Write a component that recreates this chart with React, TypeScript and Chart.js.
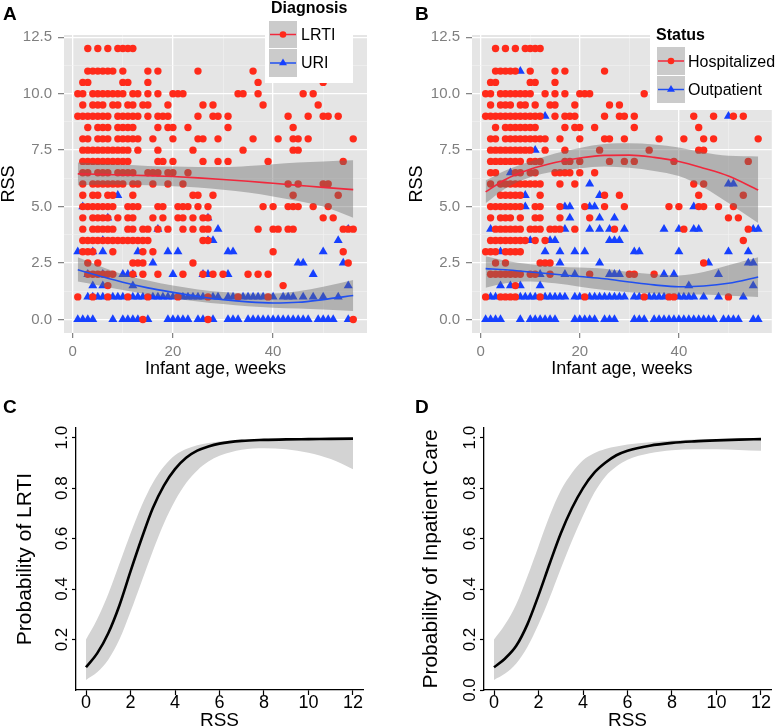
import React, { useEffect, useRef } from "react";
import { Chart, registerables } from "chart.js";

Chart.register(...registerables);

const FONT = "'Liberation Sans', Arial, Helvetica, sans-serif";

// ---------- Panel A (Diagnosis): [RSS, infant ages in weeks] ----------
const lrtiRowsA: [number, number[]][] = [
  [12, [3, 5, 7, 9, 10, 11, 12]],
  [11, [3, 4, 5, 6, 7, 8, 10, 15, 17, 25, 36]],
  [10.5, [2, 3, 10, 11, 15, 37, 50]],
  [10, [1, 2, 4, 5, 6, 7, 8, 9, 10, 12, 13, 15, 17, 20, 21, 22, 33, 34, 37, 46, 48]],
  [9.5, [2, 4, 5, 6, 8, 9, 11, 12, 14, 15, 19, 26, 28, 38, 49]],
  [9, [1, 2, 3, 4, 5, 6, 7, 9, 10, 11, 12, 13, 15, 17, 18, 19, 25, 28, 29, 31, 43, 47, 50, 51, 53]],
  [8.5, [3, 5, 6, 7, 9, 10, 11, 12, 17, 19, 20, 23, 31, 44]],
  [8, [2, 3, 5, 6, 7, 9, 10, 11, 12, 13, 16, 20, 25, 26, 29, 36, 41, 44, 45, 47, 56]],
  [7.5, [2, 3, 4, 5, 6, 7, 8, 9, 10, 11, 13, 17, 24, 34, 44, 45]],
  [7, [2, 3, 4, 5, 6, 7, 8, 9, 10, 11, 17, 18, 20, 26, 29, 31, 39, 54]],
  [6.5, [2, 3, 5, 6, 7, 9, 10, 11, 12, 15, 16, 17, 19, 20, 23]],
  [6, [2, 4, 5, 6, 7, 8, 9, 10, 12, 13, 16, 19, 22, 43, 45, 50, 51]],
  [5.5, [2, 4, 5, 7, 8, 12, 24, 25, 28, 44, 53]],
  [5, [2, 3, 4, 5, 6, 7, 8, 11, 12, 13, 17, 18, 21, 22, 23, 25, 27, 38, 40, 43, 44, 45, 48, 51]],
  [4.5, [2, 4, 5, 6, 7, 9, 11, 12, 16, 18, 21, 22, 24, 26, 27, 50, 52]],
  [4, [2, 4, 5, 6, 7, 8, 11, 12, 14, 15, 17, 19, 22, 24, 26, 27, 37, 40, 41, 43, 44, 54, 55, 56]],
  [3.5, [2, 3, 4, 5, 6, 7, 8, 9, 10, 11, 12, 13, 14, 15, 26, 27]],
  [3, [2, 3, 4, 8, 14, 16, 40, 54]],
  [2.5, [3, 5, 12, 13, 14, 24, 55]],
  [2, [3, 4, 5, 6, 7, 8, 12, 14, 17, 22, 26, 28, 30, 35, 37, 39]],
  [1.5, [7, 42]],
  [1, [1, 4, 7, 11, 15, 21, 27, 33, 39]],
  [0, [14, 27, 56]],
];

const uriRowsA: [number, number[]][] = [
  [5.5, [9]],
  [5, [2]],
  [4.5, [7, 27]],
  [4, [17, 29, 55]],
  [3.5, [6, 27, 28, 53]],
  [3, [1, 4, 6, 13, 19, 21, 31, 32, 50]],
  [2.5, [16, 45, 46, 54]],
  [2, [3, 6, 10, 11, 12, 20, 26, 27, 31, 48]],
  [1.5, [4, 6, 12, 55]],
  [1, [3, 4, 5, 6, 8, 9, 10, 12, 13, 14, 16, 17, 18, 19, 20, 22, 23, 24, 25, 26, 28, 29, 31, 32, 34, 35, 36, 37, 38, 40, 42, 43, 44, 46, 48, 50, 53]],
  [0, [1, 2, 3, 4, 8, 10, 11, 12, 13, 15, 19, 20, 21, 22, 23, 25, 26, 28, 31, 32, 33, 35, 36, 37, 38, 39, 40, 41, 42, 43, 44, 45, 46, 47, 49, 50, 51, 52, 55]],
];

// ---------- Panel B (Status) ----------
const hospRowsB: [number, number[]][] = [
  [12, [3, 5, 7, 9, 10, 11, 12]],
  [11, [3, 4, 5, 6, 7, 10, 15, 17, 25]],
  [10.5, [2, 3, 10, 11, 15]],
  [10, [1, 2, 4, 5, 6, 7, 8, 9, 10, 13, 15, 17, 20, 21, 22, 33]],
  [9.5, [2, 4, 5, 6, 8, 9, 11, 14, 15, 19, 26, 28]],
  [9, [1, 2, 3, 4, 5, 6, 7, 8, 9, 10, 11, 12, 15, 17, 18, 19, 25, 28, 29, 31, 43, 47, 51, 53]],
  [8.5, [3, 5, 6, 7, 8, 9, 10, 11, 17, 19, 20, 23, 31, 44]],
  [8, [2, 3, 5, 6, 7, 8, 9, 10, 11, 12, 13, 16, 20, 25, 26, 29, 36, 41, 45, 47, 56]],
  [7.5, [2, 3, 4, 5, 6, 7, 8, 9, 10, 13, 17, 24, 34, 44, 45]],
  [7, [2, 3, 4, 5, 6, 7, 8, 10, 11, 12, 17, 18, 20, 26, 29, 31, 39, 54]],
  [6.5, [2, 3, 7, 8, 10, 11, 15, 16, 17, 18, 20, 23]],
  [6, [2, 4, 5, 6, 7, 8, 9, 10, 11, 12, 16, 19, 43, 45]],
  [5.5, [4, 5, 6, 7, 8, 12, 25, 28, 44, 53]],
  [5, [2, 3, 4, 5, 6, 7, 8, 11, 12, 16, 21, 25, 29, 38, 40, 44, 45, 48, 51]],
  [4.5, [2, 4, 5, 6, 8, 11, 12, 16, 22, 50, 52]],
  [4, [3, 4, 5, 6, 7, 8, 10, 11, 12, 14, 15, 16, 19, 27, 41, 54]],
  [3.5, [2, 3, 4, 5, 6, 7, 8, 9, 11, 13, 53]],
  [3, [1, 2, 3, 5, 6, 7, 8]],
  [2.5, [3, 5, 12, 13, 14, 45]],
  [2, [2, 3, 4, 5, 6, 7, 8, 10, 11, 14, 22, 30, 31, 35]],
  [1.5, [7]],
  [1, [1, 4, 5, 6, 7, 12, 21, 33, 38, 39, 50]],
];

const outpRowsB: [number, number[]][] = [
  [11, [8]],
  [9, [13, 50]],
  [7.5, [11]],
  [6.5, [6]],
  [6, [22, 50, 51]],
  [5.5, [9, 24]],
  [5, [9, 17, 18, 22, 23, 43]],
  [4.5, [18, 24, 27]],
  [4, [2, 17, 22, 24, 26, 29, 37, 40, 43, 44, 55, 56]],
  [3.5, [10, 14, 15, 26, 27, 28]],
  [3, [4, 13, 16, 19, 21, 31, 32, 40, 50, 54]],
  [2.5, [16, 24, 46, 54, 55]],
  [2, [12, 17, 19, 26, 27, 28, 37, 39, 48]],
  [1.5, [4, 6, 8, 12, 42, 55]],
  [1, [2, 3, 8, 9, 10, 11, 13, 14, 15, 16, 17, 19, 20, 22, 23, 24, 25, 26, 27, 28, 29, 31, 32, 34, 35, 36, 37, 40, 41, 42, 43, 45, 48, 53]],
  [0, [1, 2, 3, 4, 8, 10, 11, 12, 13, 14, 15, 19, 20, 21, 22, 23, 25, 26, 27, 31, 32, 33, 35, 36, 37, 38, 39, 40, 41, 42, 43, 44, 45, 46, 47, 49, 50, 51, 52, 55, 56]],
];

// ---------- Smoothers (loess fit with confidence band) ----------
const ageFitGrid = [1, 5, 10, 15, 20, 25, 30, 35, 40, 45, 50, 56];
const lrtiFitA = [6.45, 6.43, 6.4, 6.37, 6.33, 6.27, 6.2, 6.12, 6.03, 5.94, 5.85, 5.75];
const lrtiLowA = [5.95, 5.97, 5.97, 5.95, 5.9, 5.85, 5.75, 5.62, 5.45, 5.25, 5.0, 4.5];
const lrtiHighA = [6.95, 6.9, 6.85, 6.8, 6.77, 6.75, 6.75, 6.8, 6.88, 6.95, 7.0, 7.05];
const uriFitA = [2.2, 1.95, 1.65, 1.4, 1.2, 1.02, 0.88, 0.78, 0.73, 0.76, 0.88, 1.06];
const uriLowA = [1.68, 1.52, 1.3, 1.1, 0.93, 0.8, 0.68, 0.58, 0.52, 0.48, 0.44, 0.38];
const uriHighA = [2.75, 2.4, 2.0, 1.72, 1.5, 1.33, 1.22, 1.15, 1.15, 1.25, 1.45, 1.75];
const hospFitB = [5.65, 6.2, 6.65, 6.95, 7.15, 7.27, 7.28, 7.18, 7.0, 6.7, 6.35, 5.73];
const hospLowB = [5.15, 5.8, 6.3, 6.55, 6.7, 6.78, 6.72, 6.58, 6.35, 5.85, 5.16, 4.27];
const hospHighB = [6.15, 6.6, 7.0, 7.35, 7.6, 7.77, 7.8, 7.75, 7.62, 7.4, 7.25, 7.22];
const outpFitB = [2.25, 2.2, 2.1, 2.0, 1.9, 1.8, 1.66, 1.53, 1.45, 1.48, 1.6, 1.88];
const outpLowB = [1.4, 1.6, 1.68, 1.6, 1.45, 1.3, 1.2, 1.15, 1.12, 1.1, 1.05, 1.0];
const outpHighB = [2.8, 2.6, 2.45, 2.35, 2.3, 2.25, 2.1, 2.0, 1.95, 2.1, 2.4, 2.75];

const ageTicks = [0, 10, 20, 30, 40, 50];
const ageTickLabels = [0, 20, 40];
const rssTicksAB = [0, 1.25, 2.5, 3.75, 5, 6.25, 7.5, 8.75, 10, 11.25, 12.5];
const rssTickLabelsAB = [0, 2.5, 5, 7.5, 10, 12.5];

// ---------- Panels C and D (logistic fits) ----------
const rssGrid = [0, 0.5, 1, 1.5, 2, 2.5, 3, 3.5, 4, 4.5, 5, 5.5, 6, 7, 8, 9, 10, 11, 12];
const lrtiProbC = [0.09, 0.145, 0.225, 0.335, 0.47, 0.6, 0.72, 0.81, 0.875, 0.92, 0.948, 0.965, 0.976, 0.987, 0.991, 0.993, 0.994, 0.995, 0.996];
const lrtiLowC = [0.04, 0.07, 0.12, 0.2, 0.31, 0.43, 0.55, 0.66, 0.75, 0.82, 0.87, 0.905, 0.928, 0.952, 0.958, 0.954, 0.94, 0.915, 0.875];
const lrtiHighC = [0.2, 0.28, 0.38, 0.5, 0.62, 0.73, 0.82, 0.885, 0.93, 0.955, 0.97, 0.979, 0.985, 0.991, 0.995, 0.997, 0.998, 0.999, 0.999];
const inpProbD = [0.09, 0.125, 0.175, 0.26, 0.375, 0.5, 0.62, 0.72, 0.8, 0.86, 0.9, 0.93, 0.948, 0.968, 0.979, 0.985, 0.989, 0.992, 0.994];
const inpLowD = [0.04, 0.065, 0.105, 0.17, 0.26, 0.365, 0.48, 0.59, 0.69, 0.78, 0.845, 0.885, 0.912, 0.938, 0.95, 0.954, 0.954, 0.951, 0.948];
const inpHighD = [0.2, 0.26, 0.34, 0.45, 0.57, 0.69, 0.79, 0.86, 0.91, 0.938, 0.955, 0.965, 0.973, 0.982, 0.988, 0.992, 0.994, 0.996, 0.997];
const rssTicksCD = [0, 2, 4, 6, 8, 10, 12];
const probTicksC = [0.2, 0.4, 0.6, 0.8, 1.0];
const probTicksD = [0, 0.2, 0.4, 0.6, 0.8, 1.0];

// ---------- styles ----------
const RED_PT = "#ff2a1a";
const BLUE_PT = "#1640ff";
const RED_LINE = "#f0283c";
const BLUE_LINE = "#2150f0";
const BAND_AB = "rgba(105,105,105,0.42)";
const PANEL_BG = "#e5e5e5";
const KEY_BG = "#cbcbcb";

function rowsToPoints(rows: [number, number[]][]) {
  const pts: { x: number; y: number }[] = [];
  rows.forEach(([y, xs]) => xs.forEach((x) => pts.push({ x, y })));
  return pts;
}
function zipXY(xs: number[], ys: number[]) {
  return xs.map((x, i) => ({ x, y: ys[i] }));
}
const near = (a: number, list: number[]) => list.some((v) => Math.abs(v - a) < 1e-6);

const overlayPlugin = {
  id: "overlay",
  beforeDraw(chart: any, _a: any, opts: any) {
    if (!opts.bg) return;
    const { ctx, chartArea: a } = chart;
    ctx.save();
    ctx.fillStyle = opts.bg;
    ctx.fillRect(a.left, a.top, a.right - a.left, a.bottom - a.top);
    ctx.restore();
  },
  afterDraw(chart: any, _a: any, opts: any) {
    const ctx = chart.ctx;
    ctx.save();
    const L = opts.legend;
    if (L) {
      ctx.fillStyle = "#ffffff";
      ctx.fillRect(L.box[0], L.box[1], L.box[2], L.box[3]);
      ctx.fillStyle = "#000";
      ctx.textAlign = "left";
      ctx.textBaseline = "alphabetic";
      ctx.font = `bold 16px ${FONT}`;
      ctx.fillText(L.title, L.titleX, L.titleY);
      L.keys.forEach((k: any) => {
        ctx.fillStyle = KEY_BG;
        ctx.fillRect(L.keyX, k.top, 28, k.h);
        const cy = k.top + k.h / 2;
        const cx = L.keyX + 14;
        ctx.strokeStyle = k.line;
        ctx.lineWidth = 1.5;
        ctx.beginPath();
        ctx.moveTo(L.keyX + 1, cy);
        ctx.lineTo(L.keyX + 27, cy);
        ctx.stroke();
        ctx.fillStyle = k.color;
        ctx.beginPath();
        if (k.shape === "triangle") {
          const r = 4.6;
          ctx.moveTo(cx, cy - r);
          ctx.lineTo(cx + r * 0.866, cy + r * 0.5);
          ctx.lineTo(cx - r * 0.866, cy + r * 0.5);
          ctx.closePath();
        } else {
          ctx.arc(cx, cy, 3.3, 0, Math.PI * 2);
        }
        ctx.fill();
        ctx.fillStyle = "#000";
        ctx.font = `16px ${FONT}`;
        ctx.fillText(k.label, L.labelX, k.base);
      });
    }
    if (opts.letter) {
      ctx.fillStyle = "#000";
      ctx.font = `bold 19px ${FONT}`;
      ctx.textAlign = "left";
      ctx.textBaseline = "alphabetic";
      ctx.fillText(opts.letter, opts.letterX, opts.letterY);
    }
    ctx.restore();
  },
};

function scatterPanel(o: any) {
  const pointsDs = (rows: any, color: string, style: string, r: number) => ({
    type: "scatter",
    data: rowsToPoints(rows),
    pointStyle: style,
    pointRadius: r,
    pointBackgroundColor: color,
    pointBorderWidth: 0,
    showLine: false,
    order: 3,
  });
  const bandEdge = (ys: number[], fill: any) => ({
    type: "line",
    data: zipXY(ageFitGrid, ys),
    borderWidth: 0,
    borderColor: "rgba(0,0,0,0)",
    backgroundColor: BAND_AB,
    pointRadius: 0,
    cubicInterpolationMode: "monotone",
    fill,
    order: 2,
  });
  const fitLine = (ys: number[], color: string) => ({
    type: "line",
    data: zipXY(ageFitGrid, ys),
    borderWidth: 1.6,
    borderColor: color,
    pointRadius: 0,
    cubicInterpolationMode: "monotone",
    fill: false,
    order: 1,
  });
  const tickFont = { family: FONT, size: 15 };
  const titleFont = { family: FONT, size: 18, lineHeight: 1 };
  return {
    type: "scatter",
    data: {
      datasets: [
        pointsDs(o.red, RED_PT, "circle", 3.7),
        pointsDs(o.blue, BLUE_PT, "triangle", 5.2),
        bandEdge(o.redLow, false),
        bandEdge(o.redHigh, "-1"),
        bandEdge(o.blueLow, false),
        bandEdge(o.blueHigh, "-1"),
        fitLine(o.redFit, RED_LINE),
        fitLine(o.blueFit, BLUE_LINE),
      ],
    },
    options: {
      responsive: false,
      animation: false,
      events: [],
      layout: { padding: { top: 35, right: o.padRight, bottom: 0, left: 0 } },
      plugins: {
        legend: { display: false },
        tooltip: { enabled: false },
        overlay: { bg: PANEL_BG, legend: o.legend, letter: o.letter, letterX: o.letterX, letterY: 20 },
      },
      scales: {
        x: {
          type: "linear",
          min: -1.75,
          max: 58.75,
          afterBuildTicks: (ax: any) => {
            ax.ticks = ageTicks.map((v) => ({ value: v }));
          },
          afterFit: (ax: any) => {
            ax.height = 52;
          },
          ticks: {
            autoSkip: false,
            maxRotation: 0,
            color: "#7f7f7f",
            font: tickFont,
            padding: 5,
            callback: (v: any) => (near(Number(v), ageTickLabels) ? String(v) : ""),
          },
          grid: {
            color: (c: any) => (c.tick && near(c.tick.value, ageTickLabels) ? "#ffffff" : "#f2f2f2"),
            lineWidth: (c: any) => (c.tick && near(c.tick.value, ageTickLabels) ? 1.3 : 0.6),
            tickColor: (c: any) => (c.tick && near(c.tick.value, ageTickLabels) ? "#7f7f7f" : "rgba(0,0,0,0)"),
            tickLength: 5,
            tickWidth: 1.2,
          },
          border: { display: false },
          title: {
            display: true,
            text: "Infant age, weeks",
            color: "#000",
            font: titleFont,
            padding: { top: 0, bottom: 7 },
          },
        },
        y: {
          type: "linear",
          min: -0.6,
          max: 12.6,
          afterBuildTicks: (ax: any) => {
            ax.ticks = rssTicksAB.map((v) => ({ value: v }));
          },
          afterFit: (ax: any) => {
            ax.width = o.yAxisWidth;
          },
          ticks: {
            autoSkip: false,
            color: "#7f7f7f",
            font: tickFont,
            padding: 6,
            callback: (v: any) => (near(Number(v), rssTickLabelsAB) ? Number(v).toFixed(1) : ""),
          },
          grid: {
            color: (c: any) => (c.tick && near(c.tick.value, rssTickLabelsAB) ? "#ffffff" : "#f2f2f2"),
            lineWidth: (c: any) => (c.tick && near(c.tick.value, rssTickLabelsAB) ? 1.3 : 0.6),
            tickColor: (c: any) => (c.tick && near(c.tick.value, rssTickLabelsAB) ? "#7f7f7f" : "rgba(0,0,0,0)"),
            tickLength: 6,
            tickWidth: 1.2,
          },
          border: { display: false },
          title: {
            display: true,
            text: "RSS",
            color: "#000",
            font: titleFont,
            padding: { top: o.yTitlePad, bottom: 0 },
          },
        },
      },
    },
    plugins: [overlayPlugin],
  };
}

function probPanel(o: any) {
  const bandEdge = (ys: number[], fill: any) => ({
    type: "line",
    data: zipXY(rssGrid, ys),
    borderWidth: 0,
    borderColor: "rgba(0,0,0,0)",
    backgroundColor: "#d3d3d3",
    pointRadius: 0,
    cubicInterpolationMode: "monotone",
    fill,
    order: 2,
  });
  return {
    type: "line",
    data: {
      datasets: [
        bandEdge(o.low, false),
        bandEdge(o.high, "-1"),
        {
          type: "line",
          data: zipXY(rssGrid, o.fit),
          borderWidth: 2.6,
          borderColor: "#000",
          pointRadius: 0,
          cubicInterpolationMode: "monotone",
          fill: false,
          order: 1,
        },
      ],
    },
    options: {
      responsive: false,
      animation: false,
      events: [],
      layout: { padding: { top: 43, right: o.padRight, bottom: 0, left: 0 } },
      plugins: {
        legend: { display: false },
        tooltip: { enabled: false },
        overlay: { letter: o.letter, letterX: o.letterX, letterY: 28 },
      },
      scales: {
        x: {
          type: "linear",
          min: -0.45,
          max: 12.45,
          afterBuildTicks: (ax: any) => {
            ax.ticks = rssTicksCD.map((v) => ({ value: v }));
          },
          afterFit: (ax: any) => {
            ax.height = 38;
          },
          ticks: {
            autoSkip: false,
            maxRotation: 0,
            color: "#000",
            font: { family: FONT, size: 18, lineHeight: 1 },
            padding: -1,
            callback: (v: any) => String(v),
          },
          grid: { drawOnChartArea: false, tickLength: 5, tickColor: "#000", tickWidth: 1.2 },
          border: { display: true, color: "#000", width: 1.3 },
          title: {
            display: true,
            text: "RSS",
            color: "#000",
            font: { family: FONT, size: 19, lineHeight: 0.8 },
            padding: { top: 0, bottom: 0 },
          },
        },
        y: {
          type: "linear",
          min: 0,
          max: 1.038,
          afterBuildTicks: (ax: any) => {
            ax.ticks = o.yTicks.map((v: number) => ({ value: v }));
          },
          afterFit: (ax: any) => {
            ax.width = o.yAxisWidth;
          },
          ticks: {
            autoSkip: false,
            minRotation: 90,
            maxRotation: 90,
            crossAlign: "center",
            color: "#000",
            font: { family: FONT, size: 17 },
            padding: -2,
            callback: (v: any) => Number(v).toFixed(1),
          },
          grid: { drawOnChartArea: false, tickLength: 4, tickColor: "#000", tickWidth: 1.2 },
          border: { display: true, color: "#000", width: 1.3 },
          title: {
            display: true,
            text: o.yTitle,
            color: "#000",
            font: { family: FONT, size: 21, lineHeight: 1 },
            padding: { top: o.yTitlePad, bottom: 0 },
          },
        },
      },
    },
    plugins: [overlayPlugin],
  };
}

export default function App() {
  const refA = useRef<HTMLCanvasElement>(null);
  const refB = useRef<HTMLCanvasElement>(null);
  const refC = useRef<HTMLCanvasElement>(null);
  const refD = useRef<HTMLCanvasElement>(null);

  useEffect(() => {
    const charts: Chart[] = [];
    const cfgA = scatterPanel({
      red: lrtiRowsA,
      blue: uriRowsA,
      redFit: lrtiFitA,
      redLow: lrtiLowA,
      redHigh: lrtiHighA,
      blueFit: uriFitA,
      blueLow: uriLowA,
      blueHigh: uriHighA,
      yAxisWidth: 64,
      yTitlePad: 0,
      padRight: 21,
      letter: "A",
      letterX: 3,
      legend: {
        box: [265, 0, 88, 83],
        title: "Diagnosis",
        titleX: 271,
        titleY: 13,
        keyX: 269,
        labelX: 301,
        keys: [
          { label: "LRTI", top: 21, h: 27, base: 40, color: RED_PT, line: RED_LINE, shape: "circle" },
          { label: "URI", top: 49, h: 28, base: 68, color: BLUE_PT, line: BLUE_LINE, shape: "triangle" },
        ],
      },
    });
    const cfgB = scatterPanel({
      red: hospRowsB,
      blue: outpRowsB,
      redFit: hospFitB,
      redLow: hospLowB,
      redHigh: hospHighB,
      blueFit: outpFitB,
      blueLow: outpLowB,
      blueHigh: outpHighB,
      yAxisWidth: 84,
      yTitlePad: 20,
      padRight: 1,
      letter: "B",
      letterX: 27,
      legend: {
        box: [262, 20, 127, 90],
        title: "Status",
        titleX: 268,
        titleY: 40,
        keyX: 269,
        labelX: 300,
        keys: [
          { label: "Hospitalized", top: 47, h: 28, base: 67, color: RED_PT, line: RED_LINE, shape: "circle" },
          { label: "Outpatient", top: 76, h: 27, base: 95, color: BLUE_PT, line: BLUE_LINE, shape: "triangle" },
        ],
      },
    });
    const cfgC = probPanel({
      fit: lrtiProbC,
      low: lrtiLowC,
      high: lrtiHighC,
      yTicks: probTicksC,
      yTitle: "Probability of LRTI",
      yAxisWidth: 76,
      yTitlePad: 14.5,
      padRight: 25,
      letter: "C",
      letterX: 3,
    });
    const cfgD = probPanel({
      fit: inpProbD,
      low: inpLowD,
      high: inpHighD,
      yTicks: probTicksD,
      yTitle: "Probability of Inpatient Care",
      yAxisWidth: 96,
      yTitlePad: 32.5,
      padRight: 6,
      letter: "D",
      letterX: 27,
    });
    const pairs: [any, any][] = [
      [refA, cfgA],
      [refB, cfgB],
      [refC, cfgC],
      [refD, cfgD],
    ];
    pairs.forEach(([r, cfg]) => {
      if (r.current) charts.push(new Chart(r.current, cfg));
    });
    return () => charts.forEach((c) => c.destroy());
  }, []);

  const base: React.CSSProperties = { position: "absolute", display: "block" };
  return (
    <div style={{ position: "absolute", left: 0, top: 0, width: 777, height: 728, background: "#fff", overflow: "hidden" }}>
      <canvas ref={refA} width={388} height={385} style={{ ...base, left: 0, top: 0, width: 388, height: 385 }} />
      <canvas ref={refB} width={389} height={385} style={{ ...base, left: 388, top: 0, width: 389, height: 385 }} />
      <canvas ref={refC} width={388} height={343} style={{ ...base, left: 0, top: 385, width: 388, height: 343 }} />
      <canvas ref={refD} width={389} height={343} style={{ ...base, left: 388, top: 385, width: 389, height: 343 }} />
    </div>
  );
}
